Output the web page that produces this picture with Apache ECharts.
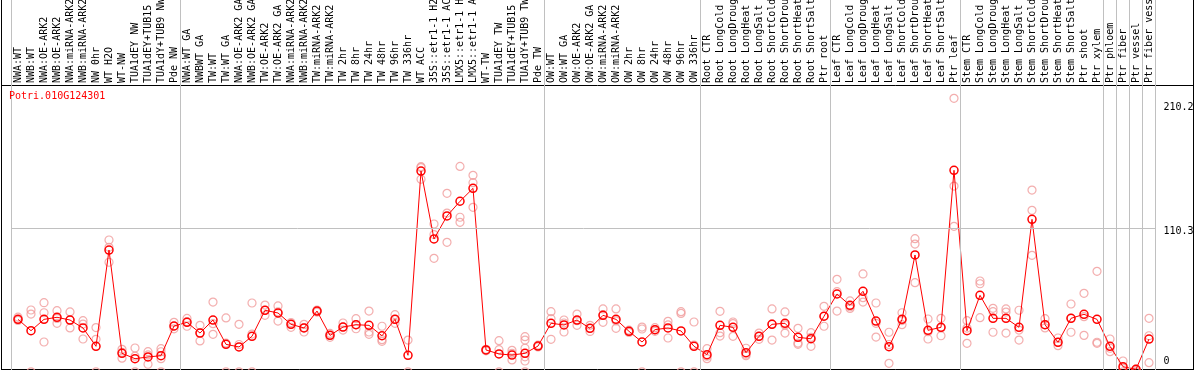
<!DOCTYPE html>
<html><head><meta charset="utf-8">
<script src="https://cdn.jsdelivr.net/npm/echarts@6/dist/echarts.min.js"></script>
<style>html,body{margin:0;padding:0;background:#fff}#c{width:1194px;height:370px}</style>
</head><body><div id="c"></div>
<script>
const geneId = 'Potri.010G124301';

const categories = [
 'NWA:WT','NWB:WT','NWA:OE-ARK2','NWB:OE-ARK2','NWA:miRNA-ARK2','NWB:miRNA-ARK2','NW 0hr','WT H2O','WT-NW','TUA1dEY NW','TUA1dEY+TUB15 NW','TUA1dY+TUB9 NW','Pde NW',
 'NWA:WT GA','NWBWT GA','TW:WT','TW:WT GA','NWA:OE-ARK2 GA','NWB:OE-ARK2 GA','TW:OE-ARK2','TW:OE-ARK2 GA','NWA:miRNA-ARK2 GA','NWB:miRNA-ARK2 GA','TW:miRNA-ARK2','TW:miRNA-ARK2 GA','TW 2hr','TW 8hr','TW 24hr','TW 48hr','TW 96hr','TW 336hr','WT ACC','35S::etr1-1 H2O','35S::etr1-1 ACC','LMX5::etr1-1 H2O','LMX5::etr1-1 ACC','WT-TW','TUA1dEY TW','TUA1dEY+TUB15 TW','TUA1dY+TUB9 TW','Pde TW',
 'OW:WT','OW:WT GA','OW:OE-ARK2','OW:OE-ARK2 GA','OW:miRNA-ARK2','OW:miRNA-ARK2 GA','OW 2hr','OW 8hr','OW 24hr','OW 48hr','OW 96hr','OW 336hr',
 'Root CTR','Root LongCold','Root LongDrought','Root LongHeat','Root LongSalt','Root ShortCold','Root ShortDrought','Root ShortHeat','Root ShortSalt','Ptr root',
 'Leaf CTR','Leaf LongCold','Leaf LongDrought','Leaf LongHeat','Leaf LongSalt','Leaf ShortCold','Leaf ShortDrought','Leaf ShortHeat','Leaf ShortSalt','Ptr leaf',
 'Stem CTR','Stem LongCold','Stem LongDrought','Stem LongHeat','Stem LongSalt','Stem ShortCold','Stem ShortDrought','Stem ShortHeat','Stem ShortSalt','Ptr shoot','Ptr xylem',
 'Ptr phloem','Ptr fiber','Ptr vessel','Ptr fiber vessel'
];

const means = [
 40.3,31.6,40.3,41.9,39.8,33.7,19.6,93.6,14.2,10.1,11.4,12.4,35.2,
 38.0,29.8,39.8,21.1,19.1,27.3,47.3,45.2,36.5,33.7,46.7,28.0,34.4,36.2,35.7,27.7,40.3,12.7,154.3,102.1,119.8,131.1,141.0,16.8,13.7,12.9,14.2,19.8,
 37.3,36.0,39.8,33.4,43.4,40.3,31.1,22.9,32.4,33.7,31.4,19.6,
 13.2,35.7,34.2,14.7,27.3,36.5,37.3,26.5,25.4,42.7,
 59.8,51.1,61.9,39.0,19.3,40.3,89.8,31.9,34.2,154.9,
 31.6,58.8,41.1,41.1,34.2,117.2,36.2,22.7,41.1,44.2,40.3,
 19.6,3.9,1.9,25.2
];

const replicates = [
 [42,40.3,39.5],[47.5,44.4,0],[53.1,45.4,22.9],[47,41,37.3],[46,39.8,33.7],[39.3,36.7,25.2],[34,25,0],[101.3,95.7,84.2],[17.3,15,10.5],[18.3,12,0],[15.5,13,5.8],[17.8,15.4,10.1,0],[38,35,33],
 [41,38.5,35],[35.7,30,23.7],[53.6,37,28.8],[41.4,22,0],[36.5,21,0],[52.9,29,0],[51.3,47.3,43.4],[50.6,46,39],[37.8,36.5,34.2],[36.5,34,30.6],[47.5,46.7,45.9],[29.5,28,26.5],[37.5,34.4,32.1],[40.8,36.2,33.1],[46.7,30.6,28.8],[35,24.7,23.4],[43.9,40.3,37.3],[24.4,0],[157.7,157,148],[113.6,105.5,87.2],[137.2,122,99.5],[157.9,118.8,114.9],[151,145.4,126.4],[17.3,16.8,16.1],[23.9,17,0],[16.5,14.2,9.1],[27,24.4,18.1,11.5,8.3,0],[20.5,19.8,19.1],
 [46.2,40.8,25],[39.8,37.5,30.6],[44.4,39.3,35.7],[35.7,33.4,31],[48.3,43.9,38],[48.3,39.2,33.4],[32,31,30.3],[34.4,32.9,0],[33.9,32.4,31.1],[38.8,36,26],[46.2,44.9,0],[38.3,20.6,0],
 [17.8,12,10.1],[46.5,30.1,27.5],[38.3,37,27.3],[18.1,13.5,12.4],[29.8,27.3,25],[48.3,36.8,24.4],[46,36,29.8],[33.4,22.1,21.1],[30.1,26.5,19.6],[50.3,42.7,35],
 [71.1,61.6,46.7],[54.5,50,48.7],[75.2,57,53.6],[52.9,37.3,26.7],[30.4,21,6.5],[45.4,39.4,36.2],[102.3,98.2,68.5],[40.6,30.8,25.2],[41.1,33.8,27.7],[210.2,142.8,111.8],
 [39.3,33.6,21.9],[69.8,67.7,41.6],[48.8,46.2,30.4],[48.3,45.9,29.8],[47.3,32.1,24.4],[139.7,124.1,89.5],[40.8,36.2,33.7],[26,22.7,20.1],[52.1,41.1,30.4],[60.3,42.4,28],[77.2,22.7,21.9],
 [25.2,18.1,15.5],[8.3,3,0],[2,1,0],[41.1,27.7,7]
];

const groupBoundaries = [0,13,41,53,63,73,84,85,86,87,88];
const yTickValues = [0, 110.3, 210.2];
const gridLineValue = 110.3;

const FONT = 'DejaVu Sans Mono';
const repData = [];
replicates.forEach((arr, i) => arr.forEach(v => repData.push([i, v])));

const chart = echarts.init(document.getElementById('c'), null, {renderer: 'canvas'});
chart.setOption({
  animation: false,
  backgroundColor: '#fff',
  title: {
    text: geneId, left: 9, top: 91, padding: 0,
    textStyle: {color: '#ff0000', fontSize: 10, fontFamily: FONT, fontWeight: 'normal'}
  },
  grid: {left: 11.5, width: 1144, top: 0, height: 371.8, containLabel: false, outerBoundsMode: 'none'},
  xAxis: [
    {
      type: 'category', data: categories, position: 'top', offset: -85,
      boundaryGap: true,
      axisLine: {show: false}, axisTick: {show: false}, splitLine: {show: false},
      axisLabel: {interval: 0, rotate: 90, margin: 2, color: '#000', fontSize: 10, fontFamily: FONT, hideOverlap: false}
    },
    {
      type: 'value', min: 0, max: categories.length, position: 'bottom', show: false,
      splitLine: {show: false}
    }
  ],
  yAxis: {
    type: 'value', position: 'right', min: 0, max: 285.8,
    axisLine: {show: false}, axisTick: {show: false}, splitLine: {show: false},
    axisLabel: {
      customValues: yTickValues, margin: 8, align: 'left', verticalAlign: 'middle',
      color: '#000', fontSize: 10, fontFamily: FONT,
      formatter: v => v === 0 ? '{b|0}' : (v > 200 ? '{t|' + v + '}' : '{m|' + v + '}'),
      rich: {
        t: {padding: [18, 0, 0, 0], fontSize: 10, fontFamily: FONT, color: '#000'},
        m: {padding: [7, 0, 0, 0], fontSize: 10, fontFamily: FONT, color: '#000'},
        b: {padding: [0, 0, 20, 0], fontSize: 10, fontFamily: FONT, color: '#000'}
      }
    }
  },
  graphic: [
    {type: 'line', silent: true, shape: {x1: 1.5, y1: 0, x2: 1.5, y2: 369.5}, style: {stroke: '#000', lineWidth: 1}},
    {type: 'line', silent: true, shape: {x1: 1193.5, y1: 0, x2: 1193.5, y2: 369.5}, style: {stroke: '#000', lineWidth: 1}},
    {type: 'line', silent: true, shape: {x1: 1, y1: 369.5, x2: 1194, y2: 369.5}, style: {stroke: '#000', lineWidth: 1}},
    {type: 'line', silent: true, shape: {x1: 1, y1: 85.5, x2: 1194, y2: 85.5}, style: {stroke: '#000', lineWidth: 1}}
  ],
  series: [
    {
      type: 'scatter', xAxisIndex: 1, yAxisIndex: 0, data: [], silent: true, z: 1,
      markLine: {
        silent: true, animation: false, symbol: ['none', 'none'],
        label: {show: false},
        lineStyle: {color: '#c0c0c0', width: 1, type: 'solid'},
        emphasis: {disabled: true},
        data: groupBoundaries.map(b => ({xAxis: b})).concat([{yAxis: gridLineValue}])
      }
    },
    {
      type: 'scatter', xAxisIndex: 0, yAxisIndex: 0, data: repData, silent: true, z: 2,
      symbol: 'circle', symbolSize: 8,
      itemStyle: {color: 'rgba(0,0,0,0)', borderColor: '#f09a9a', borderWidth: 1.2}
    },
    {
      type: 'line', xAxisIndex: 0, yAxisIndex: 0, data: means, silent: true, z: 3,
      symbol: 'circle', symbolSize: 8, showAllSymbol: true,
      lineStyle: {color: '#ff0000', width: 1},
      itemStyle: {color: 'rgba(0,0,0,0)', borderColor: '#ff0000', borderWidth: 1.5}
    }
  ]
});
</script>
</body></html>
